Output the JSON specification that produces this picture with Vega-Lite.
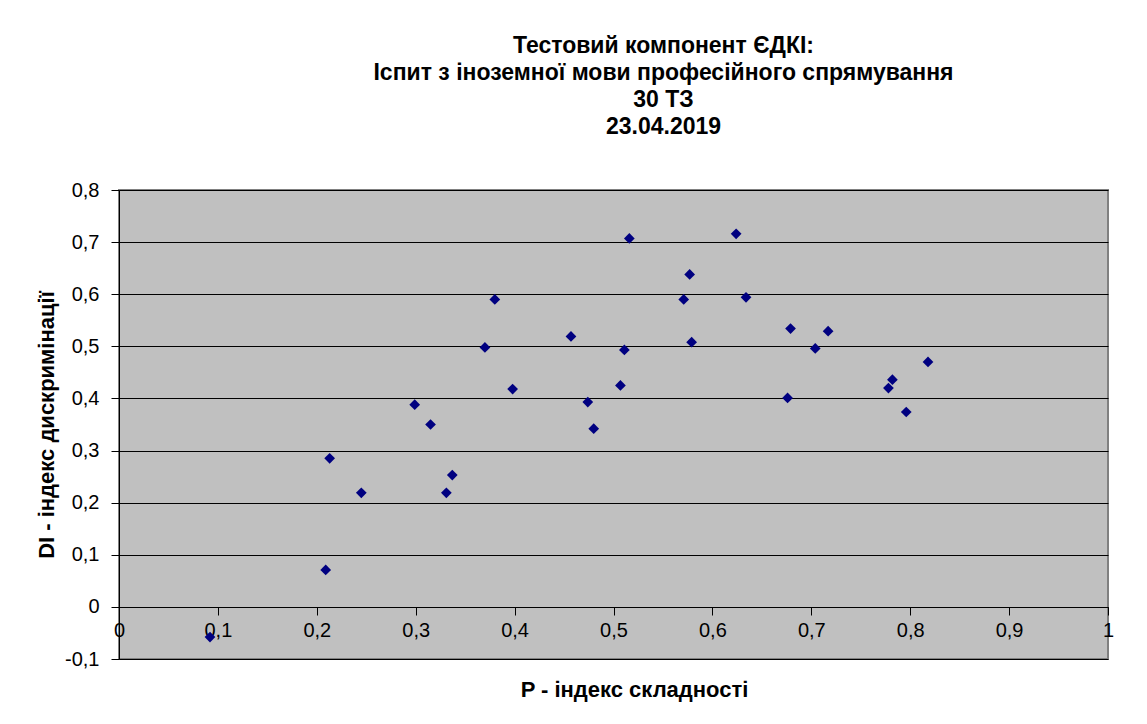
{
  "$schema": "https://vega.github.io/schema/vega-lite/v6.json",
  "autosize": {"type": "none"},
  "padding": {"left": 119, "top": 190, "right": 39, "bottom": 65},
  "width": 989,
  "height": 469,
  "background": "white",
  "title": {
    "text": ["Тестовий компонент ЄДКІ:", "Іспит з іноземної мови професійного спрямування", "30 ТЗ", "23.04.2019"],
    "font": "Liberation Sans",
    "fontSize": 23,
    "fontWeight": "bold",
    "color": "black",
    "lineHeight": 27,
    "anchor": "middle",
    "frame": "group",
    "dx": 50,
    "offset": 41
  },
  "config": {
    "view": {"fill": "#C0C0C0", "stroke": "#808080", "strokeWidth": 2},
    "axis": {
      "labelFont": "Liberation Sans",
      "labelFontSize": 20,
      "labelColor": "black",
      "titleFont": "Liberation Sans",
      "titleFontSize": 22,
      "titleFontWeight": "bold",
      "titleColor": "black",
      "domainColor": "black",
      "tickColor": "black",
      "tickSize": 8
    }
  },
  "data": {
    "values": [
      {"P": 0.092, "DI": -0.058},
      {"P": 0.209, "DI": 0.071},
      {"P": 0.213, "DI": 0.285},
      {"P": 0.245, "DI": 0.219},
      {"P": 0.299, "DI": 0.388},
      {"P": 0.315, "DI": 0.350},
      {"P": 0.331, "DI": 0.219},
      {"P": 0.337, "DI": 0.253},
      {"P": 0.370, "DI": 0.498},
      {"P": 0.380, "DI": 0.590},
      {"P": 0.398, "DI": 0.418},
      {"P": 0.457, "DI": 0.519},
      {"P": 0.474, "DI": 0.393},
      {"P": 0.480, "DI": 0.342},
      {"P": 0.507, "DI": 0.425},
      {"P": 0.511, "DI": 0.493},
      {"P": 0.516, "DI": 0.707},
      {"P": 0.571, "DI": 0.590},
      {"P": 0.577, "DI": 0.638},
      {"P": 0.579, "DI": 0.508},
      {"P": 0.624, "DI": 0.716},
      {"P": 0.634, "DI": 0.594},
      {"P": 0.676, "DI": 0.401},
      {"P": 0.679, "DI": 0.534},
      {"P": 0.704, "DI": 0.496},
      {"P": 0.717, "DI": 0.529},
      {"P": 0.778, "DI": 0.420},
      {"P": 0.782, "DI": 0.436},
      {"P": 0.796, "DI": 0.374},
      {"P": 0.818, "DI": 0.470}
    ]
  },
  "mark": {"type": "point", "shape": "diamond", "filled": true, "color": "#000080", "opacity": 1, "size": 115},
  "encoding": {
    "x": {
      "field": "P",
      "type": "quantitative",
      "scale": {"domain": [0, 1], "nice": false, "zero": false},
      "axis": {
        "title": "P - індекс складності",
        "values": [0, 0.1, 0.2, 0.3, 0.4, 0.5, 0.6, 0.7, 0.8, 0.9, 1],
        "labelExpr": "datum.value == 0 ? '0' : datum.value == 1 ? '1' : replace(format(datum.value, '.1f'), '.', ',')",
        "grid": false,
        "offset": -52,
        "labelPadding": 5,
        "labelFlush": false,
        "labelOverlap": false,
        "titlePadding": 39,
        "titleX": 515
      }
    },
    "y": {
      "field": "DI",
      "type": "quantitative",
      "scale": {"domain": [-0.1, 0.8], "nice": false, "zero": false},
      "axis": {
        "title": "DI - індекс дискримінації",
        "values": [-0.1, 0, 0.1, 0.2, 0.3, 0.4, 0.5, 0.6, 0.7, 0.8],
        "labelExpr": "datum.value == 0 ? '0' : (datum.value < 0 ? '-' : '') + replace(format(abs(datum.value), '.1f'), '.', ',')",
        "grid": true,
        "gridColor": "black",
        "gridOpacity": 1,
        "gridWidth": 1,
        "labelPadding": 12,
        "labelFlush": false,
        "labelOverlap": false,
        "titlePadding": 6
      }
    }
  }
}
